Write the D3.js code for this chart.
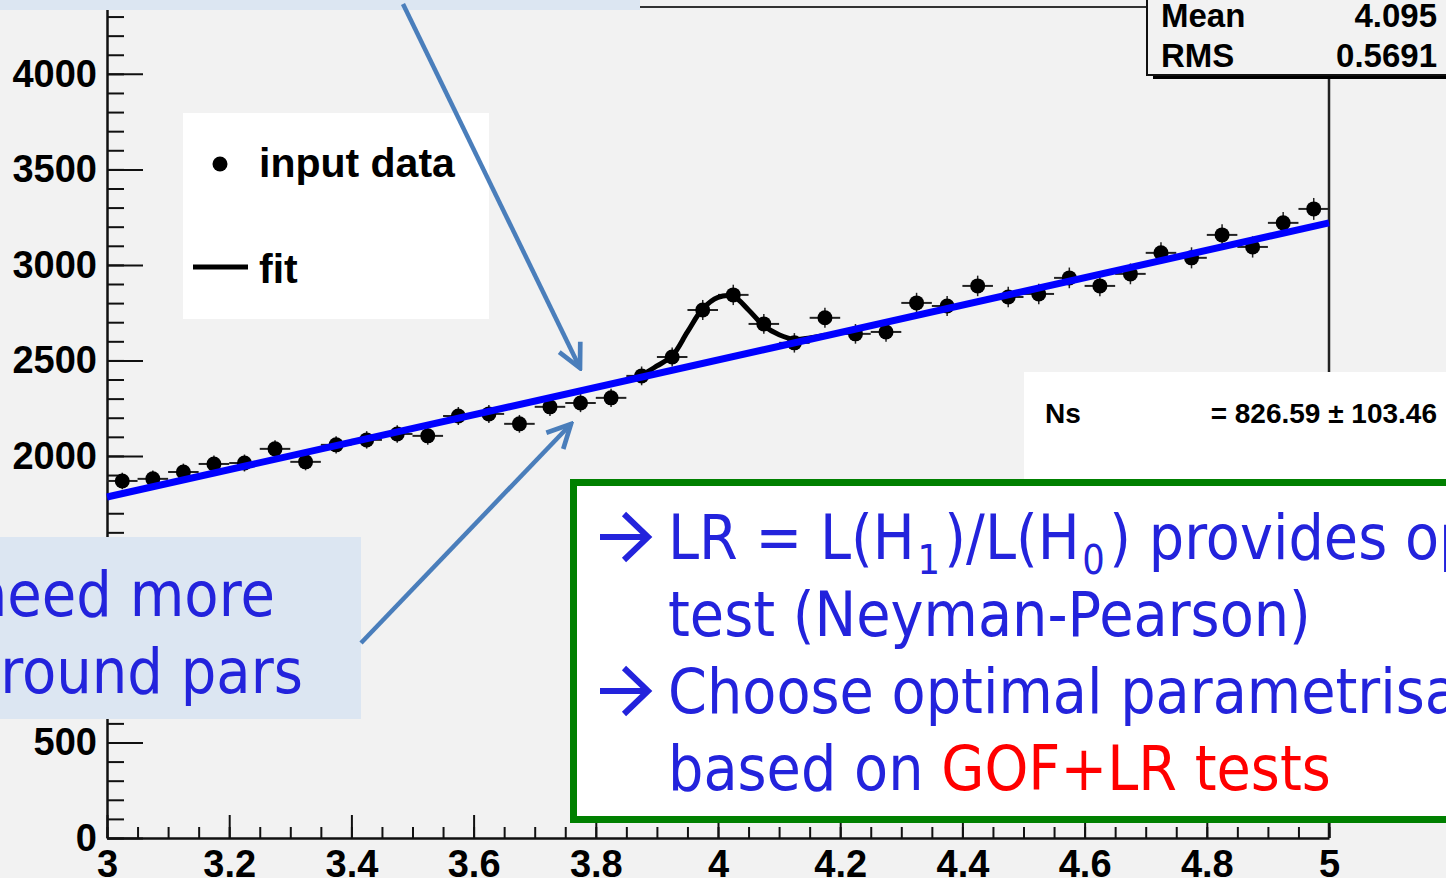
<!DOCTYPE html>
<html>
<head>
<meta charset="utf-8">
<script src="https://cdn.jsdelivr.net/npm/d3@7"></script>
<style>
  body { margin: 0; background: #f2f2f2; }
  svg { display: block; }
</style>
</head>
<body>
<div id="wrapper"></div>
<script>
// histogram bins (width 0.05) and counts
const binCenters = [3.025, 3.075, 3.125, 3.175, 3.225, 3.275, 3.325, 3.375, 3.425, 3.475,
  3.525, 3.575, 3.625, 3.675, 3.725, 3.775, 3.825, 3.875, 3.925, 3.975,
  4.025, 4.075, 4.125, 4.175, 4.225, 4.275, 4.325, 4.375, 4.425, 4.475,
  4.525, 4.575, 4.625, 4.675, 4.725, 4.775, 4.825, 4.875, 4.925, 4.975]
const counts = [1869, 1880, 1916, 1958, 1963, 2037, 1969, 2058, 2084, 2115,
  2105, 2209, 2220, 2168, 2257, 2277, 2304, 2419, 2518, 2764,
  2843, 2691, 2592, 2723, 2639, 2649, 2801, 2785, 2890, 2832,
  2848, 2932, 2890, 2953, 3063, 3037, 3157, 3094, 3220, 3293]

// background fit (straight line) and signal+background fit around the peak
const bgFitX = [3, 5]
const bgFitY = [1785, 3220]
const sigFitX = [3.85, 3.875, 3.9, 3.925, 3.95, 3.975, 4.0, 4.025, 4.05, 4.075, 4.1, 4.125, 4.15, 4.175]
const sigFitY = [2400, 2425, 2471, 2524, 2649, 2770, 2830, 2835, 2764, 2681, 2634, 2610, 2618, 2632]

const xTicks = [3, 3.2, 3.4, 3.6, 3.8, 4, 4.2, 4.4, 4.6, 4.8, 5]
const yTicks = [0, 500, 1000, 1500, 2000, 2500, 3000, 3500, 4000]

const statsLabels = ['Mean', 'RMS']
const statsValues = ['4.095', '0.5691']
const legendLabels = ['input data', 'fit']
const nsLabel = 'Ns'
const nsValue = '= 826.59 \u00b1 103.46'

const rootFont = "'Liberation Sans', Arial, sans-serif"
const slideFont = "'DejaVu Sans', Verdana, sans-serif"
const slideBlue = '#2323dc'
const arrowBlue = '#4a7ebb'

const width = 1446
const height = 878
let dimensions = {
  left: 107,
  right: 1329,
  top: 7,
  bottom: 838,
}

const svg = d3.select('#wrapper')
  .append('svg')
  .attr('width', width)
  .attr('height', height)

svg.append('rect').attr('width', width).attr('height', height).attr('fill', '#f2f2f2')

const xScale = d3.scaleLinear().domain([3, 5]).range([dimensions.left, dimensions.right])
const yScale = d3.scaleLinear().domain([0, 4350]).range([dimensions.bottom, dimensions.top])

// frame
svg.append('line')
  .attr('x1', dimensions.left).attr('x2', dimensions.right)
  .attr('y1', dimensions.top).attr('y2', dimensions.top)
  .attr('stroke', '#333').attr('stroke-width', 2)
svg.append('line')
  .attr('x1', dimensions.right).attr('x2', dimensions.right)
  .attr('y1', dimensions.top).attr('y2', dimensions.bottom)
  .attr('stroke', '#222').attr('stroke-width', 2.5)

// axes
const styleAxis = g => {
  g.attr('color', '#111')
    .attr('font-family', rootFont)
    .attr('font-weight', 'bold')
    .attr('font-size', 38)
  g.selectAll('line').attr('stroke-width', 2)
  g.selectAll('path').attr('stroke-width', 2.5)
  g.selectAll('text').attr('fill', '#000')
}

svg.append('g')
  .attr('transform', `translate(0, ${dimensions.bottom})`)
  .call(d3.axisBottom(xScale).tickValues(xScale.ticks(40)).tickFormat('').tickSizeInner(-11).tickSizeOuter(0))
  .call(styleAxis)
  .call(g => g.select('.domain').remove())
svg.append('g')
  .attr('transform', `translate(0, ${dimensions.bottom})`)
  .call(d3.axisBottom(xScale).tickValues(xTicks).tickFormat(d3.format('~g'))
    .tickSizeInner(-23).tickSizeOuter(0).tickPadding(12))
  .call(styleAxis)

svg.append('g')
  .attr('transform', `translate(${dimensions.left}, 0)`)
  .call(d3.axisLeft(yScale).tickValues(yScale.ticks(40)).tickFormat('').tickSizeInner(-17).tickSizeOuter(0))
  .call(styleAxis)
  .call(g => g.select('.domain').remove())
svg.append('g')
  .attr('transform', `translate(${dimensions.left}, 0)`)
  .call(d3.axisLeft(yScale).tickValues(yTicks).tickFormat(d3.format('d'))
    .tickSizeInner(-36).tickSizeOuter(0).tickPadding(10))
  .call(styleAxis)

// data points with error bars
const points = binCenters.map((c, i) => ({ x: c, n: counts[i] }))
const pts = svg.append('g')
pts.selectAll('line.h')
  .data(points)
  .enter().append('line')
  .attr('x1', d => xScale(d.x - 0.025))
  .attr('x2', d => xScale(d.x + 0.025))
  .attr('y1', d => yScale(d.n))
  .attr('y2', d => yScale(d.n))
  .attr('stroke', '#222').attr('stroke-width', 2)
pts.selectAll('line.v')
  .data(points)
  .enter().append('line')
  .attr('x1', d => xScale(d.x))
  .attr('x2', d => xScale(d.x))
  .attr('y1', d => yScale(d.n - Math.sqrt(d.n)))
  .attr('y2', d => yScale(d.n + Math.sqrt(d.n)))
  .attr('stroke', '#222').attr('stroke-width', 1.5)
pts.selectAll('circle')
  .data(points)
  .enter().append('circle')
  .attr('cx', d => xScale(d.x))
  .attr('cy', d => yScale(d.n))
  .attr('r', 7.5)
  .attr('fill', '#000')

// fits
const sigLine = d3.line()
  .x(d => xScale(d[0]))
  .y(d => yScale(d[1]))
  .curve(d3.curveCatmullRom)
svg.append('path')
  .datum(sigFitX.map((x, i) => [x, sigFitY[i]]))
  .attr('d', sigLine)
  .attr('fill', 'none')
  .attr('stroke', '#000')
  .attr('stroke-width', 5)
svg.append('path')
  .datum(bgFitX.map((x, i) => [x, bgFitY[i]]))
  .attr('d', d3.line().x(d => xScale(d[0])).y(d => yScale(d[1])))
  .attr('fill', 'none')
  .attr('stroke', '#0000ff')
  .attr('stroke-width', 7)

// legend
const legend = svg.append('g')
legend.append('rect')
  .attr('x', 183).attr('y', 113).attr('width', 306).attr('height', 206)
  .attr('fill', '#fff')
legend.append('circle').attr('cx', 220).attr('cy', 164).attr('r', 7.5).attr('fill', '#000')
legend.append('line')
  .attr('x1', 193).attr('x2', 248).attr('y1', 267).attr('y2', 267)
  .attr('stroke', '#000').attr('stroke-width', 5)
legend.selectAll('text')
  .data(legendLabels)
  .enter().append('text')
  .attr('x', 259)
  .attr('y', (d, i) => [177, 283][i])
  .text(d => d)
  .attr('font-family', rootFont)
  .attr('font-weight', 'bold')
  .attr('font-size', 41)

// stats box
const stats = svg.append('g')
stats.append('rect')
  .attr('x', 1153).attr('y', 75).attr('width', 320).attr('height', 4)
  .attr('fill', '#000')
stats.append('rect')
  .attr('x', 1147).attr('y', -10).attr('width', 320).attr('height', 85)
  .attr('fill', '#f2f2f2').attr('stroke', '#111').attr('stroke-width', 2)
stats.selectAll('text.lab')
  .data(statsLabels)
  .enter().append('text')
  .attr('x', 1161)
  .attr('y', (d, i) => 27 + i * 40)
  .text(d => d)
stats.selectAll('text.val')
  .data(statsValues)
  .enter().append('text')
  .attr('x', 1437)
  .attr('y', (d, i) => 27 + i * 40)
  .attr('text-anchor', 'end')
  .text(d => d)
stats.selectAll('text')
  .attr('font-family', rootFont)
  .attr('font-weight', 'bold')
  .attr('font-size', 33)

// Ns box
const ns = svg.append('g')
ns.append('rect')
  .attr('x', 1024).attr('y', 372).attr('width', 430).attr('height', 120)
  .attr('fill', '#fff')
ns.append('text').attr('x', 1045).attr('y', 423).text(nsLabel)
ns.append('text').attr('x', 1437).attr('y', 423).attr('text-anchor', 'end').text(nsValue)
ns.selectAll('text')
  .attr('font-family', rootFont)
  .attr('font-weight', 'bold')
  .attr('font-size', 28)

// green conclusion box
const box = svg.append('g')
box.append('rect')
  .attr('x', 573.5).attr('y', 482.5).attr('width', 900).attr('height', 337)
  .attr('fill', '#fff')
  .attr('stroke', '#008000')
  .attr('stroke-width', 7)

const fs = 63
const textGroup = box.append('g')
  .attr('font-family', slideFont)
  .attr('font-size', fs)
  .attr('fill', slideBlue)

const line1 = textGroup.append('text').attr('y', 559)
line1.append('tspan').text('LR = L(H')
line1.append('tspan').attr('font-size', 40).attr('dx', 3).attr('dy', 15).text('1')
line1.append('tspan').attr('dx', 5).attr('dy', -15).text(')/L(H')
line1.append('tspan').attr('font-size', 40).attr('dx', 3).attr('dy', 15).text('0')
line1.append('tspan').attr('dx', 5).attr('dy', -15).text(') provides optimal')

const line2 = textGroup.append('text').attr('y', 636).text('test (Neyman-Pearson)')
const line3 = textGroup.append('text').attr('y', 713).text('Choose optimal parametrisation')
const line4 = textGroup.append('text').attr('y', 790)
line4.append('tspan').text('based on ')
line4.append('tspan').attr('fill', '#ff0000').text('GOF+LR tests')

const sx = 643 / line2.node().getComputedTextLength()
textGroup.selectAll('text')
  .attr('x', 0)
  .attr('transform', `translate(668, 0) scale(${sx}, 1)`)

// bullet arrows in front of lines 1 and 3
box.selectAll('path.bullet')
  .data([537, 691])
  .enter().append('path')
  .attr('class', 'bullet')
  .attr('d', d => `M600,${d} H646 M624,${d - 23} L648,${d} L624,${d + 23}`)
  .attr('fill', 'none')
  .attr('stroke', slideBlue)
  .attr('stroke-width', 6)

// light blue callouts
svg.append('rect')
  .attr('x', 0).attr('y', 0).attr('width', 640).attr('height', 10)
  .attr('fill', '#dce6f2')
const callout = svg.append('g')
callout.append('rect')
  .attr('x', 0).attr('y', 537).attr('width', 361).attr('height', 182)
  .attr('fill', '#dce6f2')
const c1 = callout.append('text').attr('y', 616).text('need more')
const c2 = callout.append('text').attr('y', 693).text('round pars')
callout.selectAll('text')
  .attr('font-family', slideFont)
  .attr('font-size', fs)
  .attr('fill', slideBlue)
  .attr('text-anchor', 'end')
  .attr('x', 0)
const sx2 = 303 / c2.node().getComputedTextLength()
c1.attr('transform', `translate(275, 0) scale(${sx2}, 1)`)
c2.attr('transform', `translate(303, 0) scale(${sx2}, 1)`)

// pointer arrows
svg.append('defs').append('marker')
  .attr('id', 'head')
  .attr('viewBox', '0 0 10 10')
  .attr('refX', 9).attr('refY', 5)
  .attr('markerWidth', 6.5).attr('markerHeight', 6.5)
  .attr('orient', 'auto')
  .append('path')
  .attr('d', 'M1,1 L9,5 L1,9')
  .attr('fill', 'none')
  .attr('stroke', arrowBlue)
  .attr('stroke-width', 1.6)

const arrows = [
  { x1: 403, y1: 4, x2: 580, y2: 368 },
  { x1: 361, y1: 643, x2: 571, y2: 424 },
]
svg.selectAll('line.arrow')
  .data(arrows)
  .enter().append('line')
  .attr('class', 'arrow')
  .attr('x1', d => d.x1).attr('y1', d => d.y1)
  .attr('x2', d => d.x2).attr('y2', d => d.y2)
  .attr('stroke', arrowBlue)
  .attr('stroke-width', 4.5)
  .attr('marker-end', 'url(#head)')
</script>
</body>
</html>
